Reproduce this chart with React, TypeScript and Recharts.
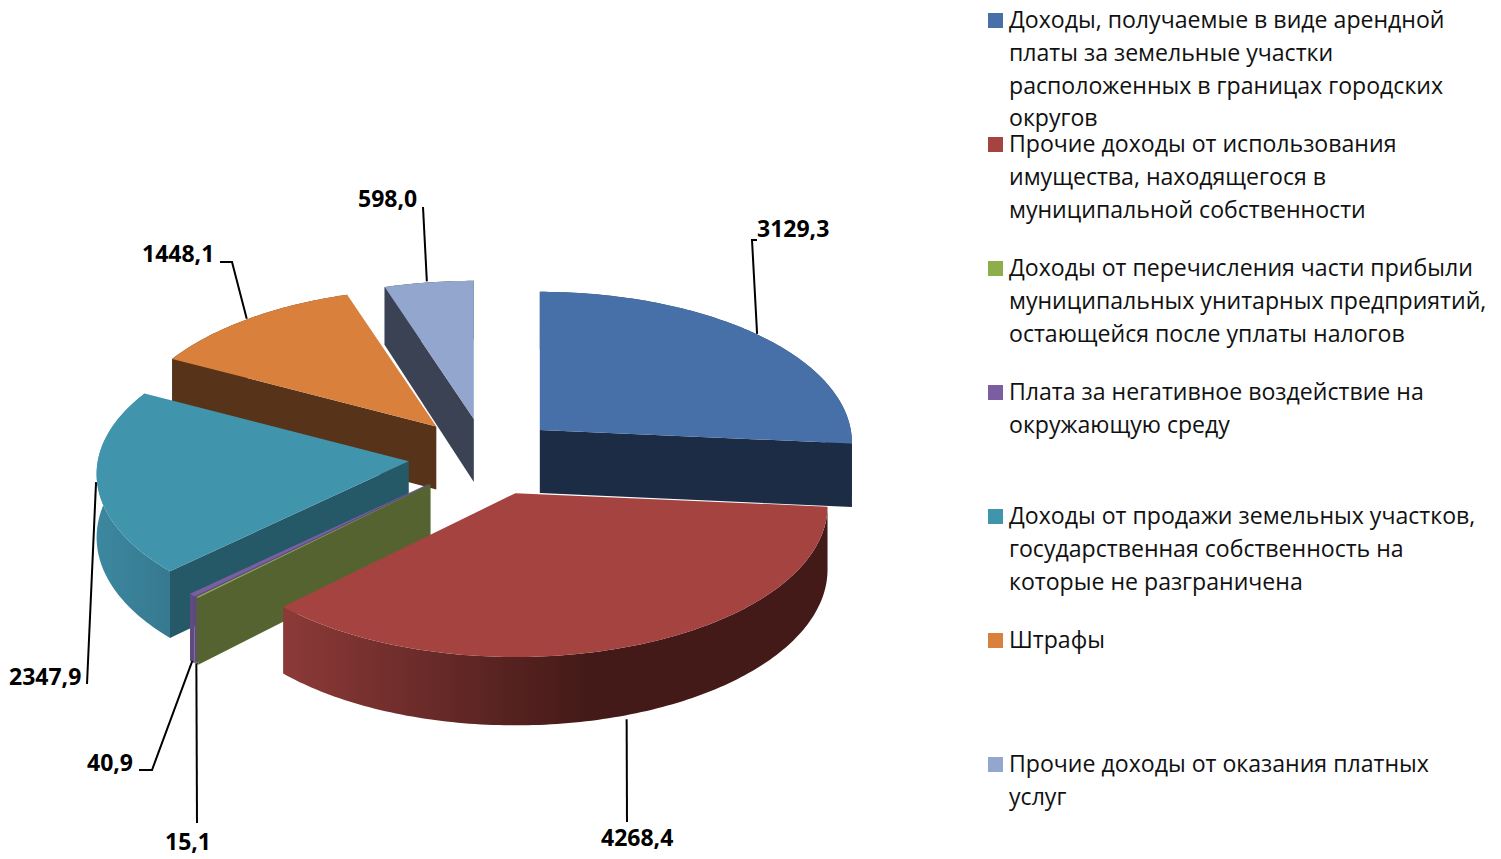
import { Legend, Pie, PieChart } from "recharts"

const legendLines = [
  ["Доходы, получаемые в виде арендной", "платы за земельные участки", "расположенных в границах городских", "округов"],
  ["Прочие доходы от использования", "имущества, находящегося в", "муниципальной собственности"],
  ["Доходы от перечисления части прибыли", "муниципальных унитарных предприятий,", "остающейся после уплаты налогов"],
  ["Плата за негативное воздействие на", "окружающую среду"],
  ["Доходы от продажи земельных участков,", "государственная собственность на", "которые не разграничена"],
  ["Штрафы"],
  ["Прочие доходы от оказания платных", "услуг"],
]
const values = [3129.3, 4268.4, 15.1, 40.9, 2347.9, 1448.1, 598.0]

const topColors = ["#4770A8", "#A54341", "#8DAE4A", "#7A5EA0", "#4095AD", "#D8803C", "#93A6CE"]
const wallColors = ["#1B2C44", "#431A18", "#556331", "#5F4A82", "#265968", "#573419", "#3B4254"]
const rimFrom = ["#2F4F78", "#8C3A38", "#556331", "#5F4A82", "#3C88A0", "#573419", "#3B4254"]
const rimTo = ["#2F4F78", "#431A18", "#556331", "#5F4A82", "#36798F", "#573419", "#3B4254"]
const rimSpan = [[700, 851], [282, 590], [190, 200], [185, 195], [95, 170], [172, 350], [384, 474]]

// small per-slice shift of the exploded pieces, same order as values
const sliceNudge = [[-1, 0], [5, 1], [1, 1], [0, 1], [1, 0], [2, 0], [2, 1]]

// leader line bends and label baseline, same order as values
const labelLayout = [
  { bends: [[752, 240], [757, 240]], text: [757, 237], depth: false, shift: [0, 0] },
  { bends: [[627, 822]], text: [601, 846], depth: true, shift: [1, 6] },
  { bends: [[197, 823]], text: [165, 850], depth: true, shift: [0, 0] },
  { bends: [[152, 770], [139, 770]], text: [87, 771], depth: true, shift: [0, 0] },
  { bends: [[87, 684]], text: [9, 685], depth: false, shift: [0, 0] },
  { bends: [[232, 262], [220, 262]], text: [142, 262], depth: false, shift: [0, 0] },
  { bends: [[423, 207]], text: [358, 207], depth: false, shift: [0, 0] },
]

const pieData = values
  .map((value, i) => ({ name: legendLines[i].join(" "), value, index: i }))
  .reverse()

const FONT = "'Open Sans', sans-serif"
const CX = 484
const CY = 456
const RX = 311
const RY = 151
const PERSPECTIVE = 0.085
const EXPLODE = 77
const DEPTH = 63

const rad = (deg: number) => (deg * Math.PI) / 180

// theta is clockwise from 12 o'clock
function apexOf(midTheta: number) {
  return {
    x: CX + EXPLODE * Math.sin(rad(midTheta)),
    y: CY - EXPLODE * 0.5 * Math.cos(rad(midTheta)),
  }
}

function rimPoint(apex: { x: number; y: number }, theta: number) {
  const u = Math.sin(rad(theta))
  const v = -Math.cos(rad(theta))
  const s = 1 + PERSPECTIVE * v
  return { x: apex.x + RX * u * s, y: apex.y + RY * v * s, d: DEPTH * s }
}

const toPath = (pts: { x: number; y: number }[]) =>
  "M" + pts.map((p) => `${p.x.toFixed(2)},${p.y.toFixed(2)}`).join("L") + "Z"

function Slice(props: any) {
  const i = props.payload?.index ?? props.index
  const t1 = 90 - props.endAngle
  const t2 = 90 - props.startAngle
  const base = apexOf((t1 + t2) / 2)
  const apex = { x: base.x + sliceNudge[i][0], y: base.y + sliceNudge[i][1] }
  const arc: { x: number; y: number; d: number }[] = []
  const steps = Math.max(2, Math.ceil(t2 - t1))
  for (let k = 0; k <= steps; k++) arc.push(rimPoint(apex, t1 + ((t2 - t1) * k) / steps))
  const down = (p: { x: number; y: number; d: number }) => ({ x: p.x, y: p.y + p.d })
  const first = arc[0]
  const last = arc[arc.length - 1]
  const apexLow = { x: apex.x, y: apex.y + DEPTH }
  const gradId = `rim-${i}`
  // a cut face only shows when it turns toward the viewer
  const startFaces = Math.sin(rad(t1)) < -0.001
  const endFaces = Math.sin(rad(t2)) > 0.001
  return (
    <g>
      <defs>
        <linearGradient id={gradId} gradientUnits="userSpaceOnUse" x1={rimSpan[i][0]} x2={rimSpan[i][1]} y1={0} y2={0}>
          <stop offset="0%" stopColor={rimFrom[i]} />
          <stop offset="100%" stopColor={rimTo[i]} />
        </linearGradient>
      </defs>
      <path d={toPath([...arc, ...[...arc].reverse().map(down)])} fill={`url(#${gradId})`} />
      {endFaces && <path d={toPath([apex, last, down(last), apexLow])} fill={wallColors[i]} />}
      {startFaces && <path d={toPath([apex, first, down(first), apexLow])} fill={wallColors[i]} />}
      <path d={toPath([apex, ...arc])} fill={topColors[i]} />
    </g>
  )
}

function SliceLabel(props: any) {
  const i = props.payload?.index ?? props.index
  const theta = 90 - props.midAngle
  const apex = apexOf(theta)
  const p = rimPoint(apex, theta)
  const layout = labelLayout[i]
  const start = [p.x + layout.shift[0], (layout.depth ? p.y + p.d : p.y) + layout.shift[1]]
  const pts = [start, ...layout.bends].map((q) => q.join(",")).join(" ")
  return (
    <g>
      <polyline points={pts} fill="none" stroke="#000" strokeWidth={2} />
      <text x={layout.text[0]} y={layout.text[1]} fontFamily={FONT} fontWeight={700} fontSize={23} fill="#000">
        {values[i].toFixed(1).replace(".", ",")}
      </text>
    </g>
  )
}

function LegendBlock() {
  return (
    <div style={{ position: "absolute", left: 0, top: 0, fontFamily: FONT, fontSize: 23.1, color: "#111" }}>
      {legendLines.map((lines, i) => (
        <div key={i}>
          <div
            style={{
              position: "absolute",
              left: 988,
              top: 13 + i * 124,
              width: 15,
              height: 15,
              background: topColors[i],
            }}
          />
          {lines.map((line, k) => (
            <div
              key={k}
              style={{
                position: "absolute",
                left: 1009,
                top: 5 + i * 124 + k * 32.8,
                lineHeight: "28px",
                whiteSpace: "nowrap",
              }}
            >
              {line}
            </div>
          ))}
        </div>
      ))}
    </div>
  )
}

export default function App() {
  return (
    <div style={{ position: "absolute", left: 0, top: 0, width: 1501, height: 859, background: "#fff" }}>
      <PieChart width={1501} height={859} margin={{ top: 0, right: 0, bottom: 0, left: 0 }}>
        <Pie
          data={pieData}
          dataKey="value"
          nameKey="name"
          cx={CX}
          cy={CY}
          outerRadius={RX}
          startAngle={90}
          endAngle={450}
          stroke="none"
          isAnimationActive={false}
          shape={Slice}
          label={SliceLabel}
          labelLine={false}
        />
        <Legend
          layout="vertical"
          align="right"
          verticalAlign="middle"
          content={LegendBlock}
          wrapperStyle={{ position: "absolute", left: 0, top: 0, width: 0, height: 0 }}
        />
      </PieChart>
    </div>
  )
}
